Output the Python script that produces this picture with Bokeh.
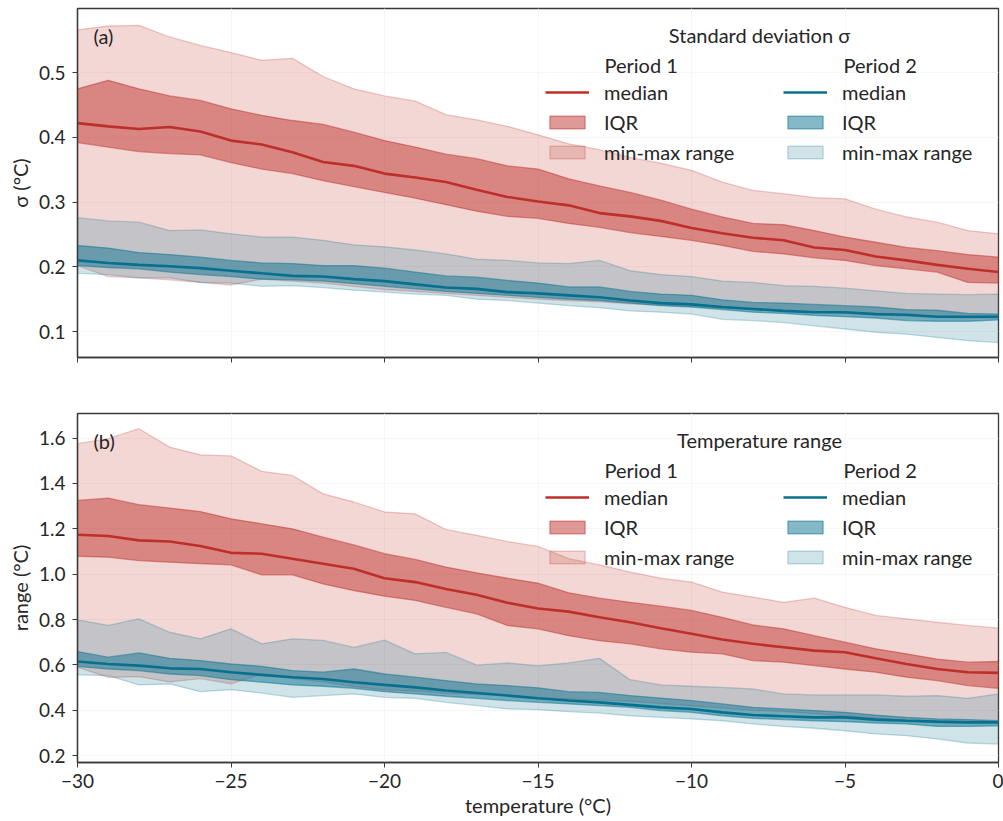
from bokeh.plotting import figure
from bokeh.layouts import column
from bokeh.models import (Range1d, FixedTicker, Legend, LegendItem, Label,
                          PrintfTickFormatter, CustomLabelingPolicy)
from bokeh.embed import file_html
from bokeh.resources import INLINE

# ---------------- data ----------------
temperature = list(range(-30, 1))

# (a) standard deviation sigma
sd_p1_max = [0.566, 0.572, 0.573, 0.555, 0.542, 0.531, 0.519, 0.522,
             0.494, 0.475, 0.464, 0.456, 0.435, 0.427, 0.417, 0.404,
             0.390, 0.381, 0.369, 0.360, 0.349, 0.331, 0.318,
             0.313, 0.307, 0.305, 0.289, 0.277, 0.269, 0.256, 0.251]
sd_p1_q75 = [0.475, 0.488, 0.475, 0.464, 0.457, 0.444, 0.434, 0.426,
             0.420, 0.408, 0.395, 0.385, 0.374, 0.367, 0.356, 0.351,
             0.336, 0.325, 0.315, 0.303, 0.289, 0.277, 0.267,
             0.265, 0.256, 0.246, 0.238, 0.230, 0.225, 0.219, 0.215]
sd_p1_med = [0.422, 0.417, 0.413, 0.416, 0.409, 0.395, 0.389, 0.377,
             0.362, 0.356, 0.344, 0.338, 0.331, 0.319, 0.308, 0.301,
             0.295, 0.283, 0.278, 0.271, 0.260, 0.252, 0.245,
             0.241, 0.230, 0.226, 0.216, 0.210, 0.203, 0.197, 0.192]
sd_p1_q25 = [0.392, 0.385, 0.378, 0.375, 0.373, 0.361, 0.351, 0.344,
             0.333, 0.324, 0.315, 0.306, 0.296, 0.286, 0.278, 0.275,
             0.267, 0.261, 0.253, 0.247, 0.241, 0.233, 0.224,
             0.220, 0.214, 0.210, 0.202, 0.197, 0.192, 0.176, 0.175]
sd_p1_min = [0.202, 0.185, 0.183, 0.180, 0.176, 0.172, 0.181, 0.178,
             0.175, 0.170, 0.165, 0.162, 0.159, 0.156, 0.153, 0.150,
             0.148, 0.146, 0.143, 0.141, 0.139, 0.136, 0.134,
             0.132, 0.130, 0.128, 0.126, 0.124, 0.122, 0.121, 0.121]

sd_p2_max = [0.276, 0.271, 0.269, 0.256, 0.257, 0.251, 0.246, 0.246,
             0.241, 0.234, 0.231, 0.226, 0.220, 0.212, 0.210, 0.206,
             0.205, 0.210, 0.194, 0.188, 0.185, 0.178, 0.176,
             0.171, 0.170, 0.167, 0.163, 0.159, 0.158, 0.157, 0.158]
sd_p2_q75 = [0.233, 0.229, 0.222, 0.219, 0.215, 0.210, 0.206, 0.205,
             0.202, 0.202, 0.198, 0.192, 0.186, 0.184, 0.179, 0.175,
             0.169, 0.169, 0.162, 0.158, 0.156, 0.149, 0.145,
             0.144, 0.142, 0.140, 0.138, 0.134, 0.133, 0.128, 0.127]
sd_p2_med = [0.210, 0.206, 0.203, 0.201, 0.198, 0.194, 0.190, 0.186,
             0.185, 0.181, 0.178, 0.173, 0.168, 0.166, 0.161, 0.159,
             0.156, 0.153, 0.148, 0.144, 0.142, 0.138, 0.135,
             0.132, 0.130, 0.130, 0.127, 0.126, 0.123, 0.123, 0.123]
sd_p2_q25 = [0.202, 0.199, 0.197, 0.192, 0.188, 0.185, 0.181, 0.180,
             0.178, 0.174, 0.170, 0.166, 0.162, 0.159, 0.156, 0.153,
             0.150, 0.148, 0.144, 0.140, 0.138, 0.134, 0.130,
             0.128, 0.125, 0.123, 0.121, 0.117, 0.116, 0.116, 0.118]
sd_p2_min = [0.190, 0.188, 0.183, 0.183, 0.176, 0.175, 0.170, 0.171,
             0.168, 0.164, 0.161, 0.158, 0.156, 0.150, 0.148, 0.144,
             0.140, 0.137, 0.132, 0.130, 0.127, 0.119, 0.117,
             0.114, 0.109, 0.104, 0.099, 0.096, 0.091, 0.086, 0.083]

# (b) temperature range
rg_p1_max = [1.575, 1.597, 1.641, 1.560, 1.526, 1.521, 1.453, 1.435,
             1.354, 1.318, 1.274, 1.266, 1.197, 1.171, 1.144, 1.122,
             1.068, 1.041, 1.009, 0.982, 0.965, 0.921, 0.899,
             0.876, 0.894, 0.854, 0.818, 0.803, 0.788, 0.774, 0.762]
rg_p1_q75 = [1.325, 1.335, 1.306, 1.291, 1.276, 1.244, 1.222, 1.200,
             1.163, 1.129, 1.090, 1.065, 1.031, 1.006, 0.982, 0.960,
             0.918, 0.894, 0.876, 0.859, 0.840, 0.810, 0.776,
             0.759, 0.729, 0.700, 0.671, 0.649, 0.626, 0.612, 0.615]
rg_p1_med = [1.174, 1.168, 1.149, 1.144, 1.124, 1.094, 1.090, 1.068,
             1.046, 1.024, 0.982, 0.965, 0.935, 0.909, 0.874, 0.849,
             0.835, 0.810, 0.788, 0.762, 0.737, 0.712, 0.693,
             0.678, 0.663, 0.656, 0.629, 0.604, 0.582, 0.568, 0.565]
rg_p1_q25 = [1.079, 1.075, 1.060, 1.053, 1.046, 1.041, 0.997, 0.997,
             0.957, 0.928, 0.903, 0.884, 0.854, 0.825, 0.774, 0.759,
             0.729, 0.707, 0.693, 0.671, 0.656, 0.649, 0.619,
             0.612, 0.597, 0.582, 0.568, 0.546, 0.531, 0.509, 0.497]
rg_p1_min = [0.590, 0.545, 0.548, 0.525, 0.540, 0.517, 0.560, 0.540,
             0.525, 0.505, 0.490, 0.485, 0.475, 0.470, 0.465, 0.455,
             0.450, 0.445, 0.440, 0.430, 0.420, 0.410, 0.400,
             0.395, 0.385, 0.375, 0.365, 0.355, 0.345, 0.345, 0.350]

rg_p2_max = [0.799, 0.774, 0.803, 0.744, 0.715, 0.759, 0.693, 0.715,
             0.708, 0.677, 0.709, 0.649, 0.655, 0.599, 0.609, 0.596,
             0.609, 0.629, 0.535, 0.512, 0.506, 0.501, 0.494,
             0.472, 0.468, 0.468, 0.468, 0.462, 0.465, 0.453, 0.472]
rg_p2_q75 = [0.659, 0.634, 0.653, 0.629, 0.619, 0.604, 0.594, 0.575,
             0.568, 0.582, 0.560, 0.546, 0.531, 0.516, 0.509, 0.499,
             0.482, 0.479, 0.465, 0.454, 0.443, 0.428, 0.413,
             0.406, 0.399, 0.391, 0.379, 0.369, 0.362, 0.359, 0.354]
rg_p2_med = [0.615, 0.604, 0.597, 0.585, 0.582, 0.568, 0.556, 0.546,
             0.538, 0.524, 0.512, 0.501, 0.487, 0.476, 0.465, 0.453,
             0.443, 0.435, 0.424, 0.413, 0.406, 0.391, 0.379,
             0.374, 0.369, 0.369, 0.359, 0.354, 0.350, 0.347, 0.347]
rg_p2_q25 = [0.594, 0.582, 0.575, 0.560, 0.553, 0.535, 0.524, 0.512,
             0.506, 0.497, 0.482, 0.472, 0.462, 0.453, 0.443, 0.435,
             0.428, 0.421, 0.413, 0.399, 0.391, 0.376, 0.365,
             0.359, 0.354, 0.350, 0.344, 0.340, 0.329, 0.329, 0.332]
rg_p2_min = [0.556, 0.553, 0.512, 0.516, 0.482, 0.491, 0.476, 0.457,
             0.465, 0.472, 0.457, 0.453, 0.435, 0.421, 0.406, 0.403,
             0.394, 0.388, 0.376, 0.369, 0.362, 0.354, 0.340,
             0.329, 0.321, 0.310, 0.296, 0.288, 0.274, 0.256, 0.251]

x_ticks = [-30, -25, -20, -15, -10, -5, 0]
sd_ticks = [0.1, 0.2, 0.3, 0.4, 0.5]
rg_ticks = [0.2, 0.4, 0.6, 0.8, 1.0, 1.2, 1.4, 1.6]

# ---------------- style ----------------
FONT = "Lato"
RED = "#c0362f"
BLUE = "#0d7392"
RED_LINE = "#bd2f29"
BLUE_LINE = "#07708e"
INK = "#262626"
FRAME = "#3a3a3a"


def band(x, lower, upper):
    return list(x) + list(x)[::-1], list(upper) + list(lower)[::-1]


def make_panel(height, border_top, border_bottom, y_range, y_ticks, y_label,
               show_x_labels, letter, title, p1, p2):
    p = figure(width=1003, height=height, output_backend="svg", toolbar_location=None,
               x_range=Range1d(-30, 0), y_range=Range1d(*y_range),
               min_border_left=77, min_border_right=5,
               min_border_top=border_top, min_border_bottom=border_bottom)
    p.background_fill_color = "white"
    p.border_fill_color = "white"
    p.outline_line_color = FRAME
    p.outline_line_width = 1.3

    for ax in (p.xaxis[0], p.yaxis[0]):
        ax.axis_line_color = FRAME
        ax.axis_line_width = 1.3
        ax.major_tick_line_color = FRAME
        ax.major_tick_out = 5
        ax.major_tick_in = 0
        ax.minor_tick_line_color = None
        ax.major_label_text_font = FONT
        ax.major_label_text_font_size = "19px"
        ax.major_label_text_color = INK
        ax.axis_label_text_font = FONT
        ax.axis_label_text_font_size = "20px"
        ax.axis_label_text_font_style = "normal"
        ax.axis_label_text_color = INK

    p.xaxis.ticker = FixedTicker(ticks=x_ticks)
    p.yaxis.ticker = FixedTicker(ticks=y_ticks)
    p.yaxis.formatter = PrintfTickFormatter(format="%.1f")
    p.xgrid.ticker = FixedTicker(ticks=x_ticks)
    p.ygrid.ticker = FixedTicker(ticks=y_ticks)
    p.xgrid.grid_line_color = "#f6f6f6"
    p.ygrid.grid_line_color = "#f6f6f6"
    p.yaxis.axis_label = y_label
    p.yaxis.axis_label_standoff = 4
    p.yaxis.major_label_standoff = 7
    if show_x_labels:
        p.xaxis.major_label_overrides = {t: ("−%d" % -t if t < 0 else str(t)) for t in x_ticks}
        p.xaxis.axis_label = "temperature (°C)"
        p.xaxis.major_label_standoff = 6
        p.xaxis.axis_label_standoff = 2
    else:
        # shared x axis: tick marks only, no tick labels
        p.xaxis.major_label_policy = CustomLabelingPolicy(
            code="for (const i of Array.from(indices)) { indices.unset(i) }; return indices")

    (a_min, a_q25, a_med, a_q75, a_max) = p1
    (b_min, b_q25, b_med, b_q75, b_max) = p2

    xs, ys = band(temperature, a_min, a_max)
    r_red_mm = p.patch(xs, ys, fill_color=RED, fill_alpha=0.2, line_color=RED, line_alpha=0.25, line_width=1.3)
    xs, ys = band(temperature, b_min, b_max)
    r_blue_mm = p.patch(xs, ys, fill_color=BLUE, fill_alpha=0.2, line_color=BLUE, line_alpha=0.25, line_width=1.3)
    xs, ys = band(temperature, a_q25, a_q75)
    r_red_iqr = p.patch(xs, ys, fill_color=RED, fill_alpha=0.5, line_color=RED, line_alpha=0.5, line_width=1.3)
    xs, ys = band(temperature, b_q25, b_q75)
    r_blue_iqr = p.patch(xs, ys, fill_color=BLUE, fill_alpha=0.5, line_color=BLUE, line_alpha=0.5, line_width=1.3)
    r_red_med = p.line(temperature, a_med, line_color=RED_LINE, line_width=2.6)
    r_blue_med = p.line(temperature, b_med, line_color=BLUE_LINE, line_width=2.6)

    def legend(items, x):
        lg = Legend(items=items, location=(x, 192), orientation="vertical",
                    background_fill_alpha=0, border_line_alpha=0,
                    padding=0, margin=0, spacing=3,
                    glyph_width=44, glyph_height=16, label_height=27,
                    label_standoff=15, label_text_font=FONT,
                    label_text_font_size="20px", label_text_color=INK)
        p.add_layout(lg)

    legend([LegendItem(label="median", renderers=[r_red_med]),
            LegendItem(label="IQR", renderers=[r_red_iqr]),
            LegendItem(label="min-max range", renderers=[r_red_mm])], 468)
    legend([LegendItem(label="median", renderers=[r_blue_med]),
            LegendItem(label="IQR", renderers=[r_blue_iqr]),
            LegendItem(label="min-max range", renderers=[r_blue_mm])], 706)

    def lab(text, x, y, align="left"):
        p.add_layout(Label(x=x, y=y, x_units="screen", y_units="screen", text=text,
                           text_font=FONT, text_font_size="20px", text_color=INK,
                           text_align=align, text_baseline="middle"))

    lab(letter, 16, 322)
    lab(title, 682, 323, "center")
    lab("Period 1", 527, 293)
    lab("Period 2", 766, 293)
    return p


top = make_panel(385, 8, 28, (0.06, 0.599), sd_ticks, "σ (°C)", False, "(a)",
                 "Standard deviation σ",
                 (sd_p1_min, sd_p1_q25, sd_p1_med, sd_p1_q75, sd_p1_max),
                 (sd_p2_min, sd_p2_q25, sd_p2_med, sd_p2_q75, sd_p2_max))
bottom = make_panel(436, 28, 59, (0.17, 1.708), rg_ticks, "range (°C)", True, "(b)",
                    "Temperature range",
                    (rg_p1_min, rg_p1_q25, rg_p1_med, rg_p1_q75, rg_p1_max),
                    (rg_p2_min, rg_p2_q25, rg_p2_med, rg_p2_q75, rg_p2_max))
bottom.x_range = top.x_range

layout = column(top, bottom, spacing=0)
open("out.html", "w").write(file_html(layout, INLINE))
